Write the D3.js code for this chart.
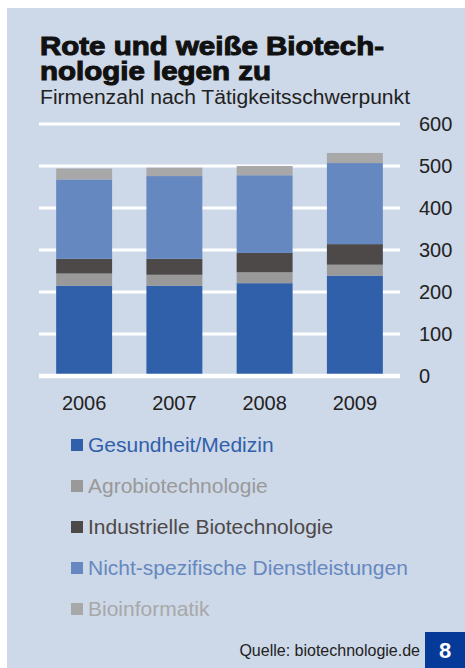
<!DOCTYPE html>
<meta charset="utf-8">
<style>
body { margin: 0; background: #fff; }
svg { display: block; font-family: "Liberation Sans", Arial, sans-serif; }
.grid line { stroke: #fff; stroke-width: 3px; }
.axis-label { font-size: 20px; fill: #222; }
.title { font: bold 25px "Liberation Sans"; fill: #111; stroke: #111; stroke-width: 1px; }
</style>
<svg width="465" height="668"></svg>
<script src="https://cdn.jsdelivr.net/npm/d3@7"></script>
<script>

var years = ["2006", "2007", "2008", "2009"];
var seriesNames = ["Gesundheit/Medizin", "Agrobiotechnologie", "Industrielle Biotechnologie",
                   "Nicht-spezifische Dienstleistungen", "Bioinformatik"];
var gesundheit = [215, 215, 221, 239];
var agro       = [29, 26, 26, 26];
var industrie  = [35, 38, 46, 49];
var nichtSpez  = [189, 197, 185, 193];
var bioinfo    = [26, 20, 22, 24];
var yTicks = [0, 100, 200, 300, 400, 500, 600];
var colors = ["#3060aa", "#999999", "#4d4949", "#6688c0", "#a8a8a8"];

var svg = d3.select("svg");

// hintergrund
svg.append("rect")
    .attr("x", 7).attr("y", 8)
    .attr("width", 458).attr("height", 660)
    .attr("fill", "#cdd8e8");

// titel (schrift breiter gezogen wie im original)
var title = svg.append("g")
    .attr("transform", "translate(40,0) scale(1.18,1)");
title.append("text")
    .attr("class", "title")
    .attr("y", 55.5)
    .text("Rote und weiße Biotech-");
title.append("text")
    .attr("class", "title")
    .attr("y", 80)
    .text("nologie legen zu");

svg.append("text")
    .attr("x", 40).attr("y", 104)
    .attr("textLength", 370)
    .attr("lengthAdjust", "spacingAndGlyphs")
    .style("font-size", "19.5px")
    .attr("fill", "#222")
    .text("Firmenzahl nach Tätigkeitsschwerpunkt");

var rows = years.map(function(y, i) {
  return {year: y, s0: gesundheit[i], s1: agro[i], s2: industrie[i], s3: nichtSpez[i], s4: bioinfo[i]};
});

var x = d3.scaleBand()
    .domain(years)
    .range([39, 400])
    .paddingInner(0.38)
    .paddingOuter(0.19);

var y = d3.scaleLinear()
    .domain([0, 600])
    .range([376, 124]);

// gitterlinien
svg.append("g")
    .attr("class", "grid")
  .selectAll("line")
    .data(yTicks)
  .enter().append("line")
    .attr("x1", 39).attr("x2", 400)
    .attr("y1", function(d) { return y(d); })
    .attr("y2", function(d) { return y(d); });

var stack = d3.stack().keys(["s0", "s1", "s2", "s3", "s4"]);

svg.append("g")
  .selectAll("g")
    .data(stack(rows))
  .enter().append("g")
    .attr("fill", function(d, i) { return colors[i]; })
  .selectAll("rect")
    .data(function(d) { return d; })
  .enter().append("rect")
    .attr("x", function(d) { return x(d.data.year); })
    .attr("y", function(d) { return y(d[1]); })
    .attr("width", x.bandwidth())
    .attr("height", function(d) { return y(d[0]) - y(d[1]); });

// nulllinie
svg.append("line")
    .attr("x1", 39).attr("x2", 400)
    .attr("y1", y(0)).attr("y2", y(0))
    .attr("stroke", "#fff").attr("stroke-width", 4.5);

// y-achse rechts
svg.append("g")
  .selectAll("text")
    .data(yTicks)
  .enter().append("text")
    .attr("class", "axis-label")
    .attr("x", 419)
    .attr("y", function(d) { return y(d); })
    .attr("dy", "0.36em")
    .text(function(d) { return d; });

// jahre
svg.append("g")
  .selectAll("text")
    .data(years)
  .enter().append("text")
    .attr("class", "axis-label")
    .attr("x", function(d) { return x(d) + x.bandwidth() / 2; })
    .attr("y", 410)
    .attr("text-anchor", "middle")
    .text(function(d) { return d; });

// legende
var legend = svg.append("g")
  .selectAll("g")
    .data(seriesNames)
  .enter().append("g")
    .attr("transform", function(d, i) { return "translate(71," + (452 + i * 41) + ")"; });

legend.append("rect")
    .attr("y", -13)
    .attr("width", 12).attr("height", 12)
    .attr("fill", function(d, i) { return colors[i]; });

legend.append("text")
    .attr("x", 17)
    .style("font-size", "21px")
    .attr("fill", function(d, i) { return colors[i]; })
    .text(function(d) { return d; });

// quelle
svg.append("text")
    .attr("x", 420).attr("y", 656)
    .attr("text-anchor", "end")
    .style("font-size", "16px")
    .attr("fill", "#222")
    .text("Quelle: biotechnologie.de");

svg.append("rect")
    .attr("x", 425).attr("y", 632)
    .attr("width", 40).attr("height", 36)
    .attr("fill", "#063a98");

svg.append("text")
    .attr("x", 445).attr("y", 658)
    .attr("text-anchor", "middle")
    .style("font", "bold 22px 'Liberation Sans'")
    .attr("fill", "#fff")
    .text("8");

</script>
